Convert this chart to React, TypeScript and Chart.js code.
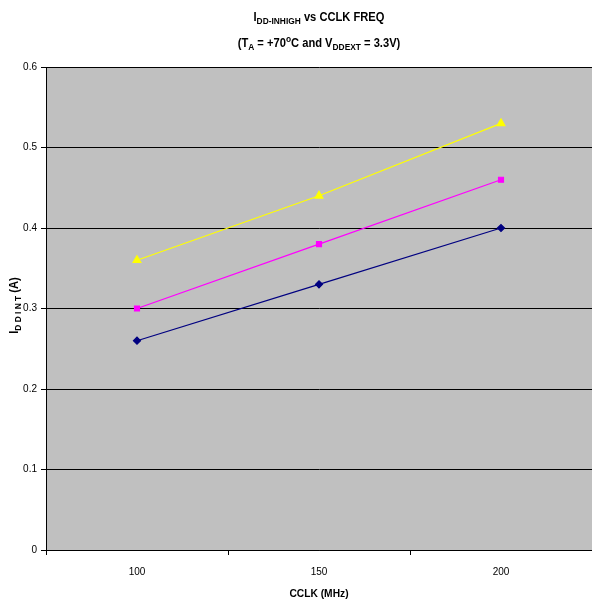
import React, { useEffect, useRef } from "react";
import { Chart, registerables } from "chart.js";

Chart.register(...registerables);

// Clock frequencies (MHz) and measured supply current (A)
const freqLabels = ["100", "150", "200"];
const seriesLow = [0.26, 0.33, 0.4];
const seriesMid = [0.3, 0.38, 0.46];
const seriesHigh = [0.36, 0.44, 0.53];

const FONT = '"Liberation Sans", Arial, sans-serif';

type Seg = { t: string; k?: "sub" | "sup" };

// Draws a centred line of bold text with sub/superscript runs, slightly condensed.
function drawRich(ctx: CanvasRenderingContext2D, segs: Seg[], cx: number, cy: number, size: number, squeeze = 0.93) {
  const small = Math.round(size * 0.72);
  const fontFor = (s: Seg) => `bold ${s.k ? small : size}px ${FONT}`;
  let total = 0;
  const widths = segs.map((s) => {
    ctx.font = fontFor(s);
    const w = ctx.measureText(s.t).width;
    total += w;
    return w;
  });
  ctx.save();
  ctx.translate(cx, cy);
  ctx.scale(squeeze, 1);
  let x = -total / 2;
  ctx.textAlign = "left";
  ctx.textBaseline = "alphabetic";
  ctx.fillStyle = "#000";
  const base = size * 0.36;
  segs.forEach((s, i) => {
    ctx.font = fontFor(s);
    let y = base;
    if (s.k === "sub") y = base + size * 0.25;
    if (s.k === "sup") y = base - size * 0.45;
    ctx.fillText(s.t, x, y);
    x += widths[i];
  });
  ctx.restore();
}

const decorPlugin = {
  id: "decor",
  beforeDraw(chart: any) {
    const { ctx, chartArea } = chart;
    ctx.save();
    ctx.fillStyle = "#C0C0C0";
    ctx.fillRect(chartArea.left, chartArea.top, chartArea.right - chartArea.left, chartArea.bottom - chartArea.top);
    ctx.restore();
  },
  afterDraw(chart: any) {
    const { ctx, chartArea } = chart;
    const cx = (chartArea.left + chartArea.right) / 2;
    ctx.save();
    drawRich(ctx, [{ t: "I" }, { t: "DD-INHIGH", k: "sub" }, { t: " vs CCLK FREQ" }], cx, 17, 12);
    drawRich(
      ctx,
      [
        { t: "(T" },
        { t: "A", k: "sub" },
        { t: " = +70" },
        { t: "o", k: "sup" },
        { t: "C and V" },
        { t: "DDEXT", k: "sub" },
        { t: " = 3.3V)" },
      ],
      cx,
      43,
      12
    );
    drawRich(ctx, [{ t: "CCLK (MHz)" }], cx, 593, 11);
    ctx.translate(14, (chartArea.top + chartArea.bottom) / 2 - 3);
    ctx.rotate(-Math.PI / 2);
    drawRich(ctx, [{ t: "I" }, { t: "D D I N T", k: "sub" }, { t: " (A)" }], 0, 0, 12);
    ctx.restore();
  },
};

export default function App() {
  const ref = useRef<HTMLCanvasElement>(null);

  useEffect(() => {
    document.body.style.margin = "0";
    const chart = new Chart(ref.current!, {
      type: "line",
      data: {
        labels: freqLabels,
        datasets: [
          {
            data: seriesLow,
            borderColor: "#000080",
            backgroundColor: "#000080",
            borderWidth: 1.2,
            pointStyle: "rectRot",
            pointRadius: 3.5,
          },
          {
            data: seriesMid,
            borderColor: "#FF00FF",
            backgroundColor: "#FF00FF",
            borderWidth: 1.2,
            pointStyle: "rect",
            pointRadius: 3.5,
          },
          {
            data: seriesHigh,
            borderColor: "#FFFF00",
            backgroundColor: "#FFFF00",
            borderWidth: 1.2,
            pointStyle: "triangle",
            pointRadius: 4.5,
          },
        ],
      },
      options: {
        animation: false,
        responsive: false,
        layout: { autoPadding: false, padding: { top: 67, left: 0, right: 0, bottom: 0 } },
        plugins: { legend: { display: false }, tooltip: { enabled: false } },
        scales: {
          x: {
            type: "category",
            offset: true,
            border: { color: "#000", width: 1 },
            grid: { offset: true, drawOnChartArea: false, drawTicks: true, tickLength: 5, color: "#000" },
            ticks: { color: "#000", font: { family: FONT, size: 10 }, padding: 11 },
            afterFit: (s: any) => {
              s.height = 55;
              s.paddingLeft = 0;
              s.paddingRight = 0;
            },
          },
          y: {
            min: 0,
            max: 0.6,
            border: { color: "#000", width: 1 },
            grid: { color: "#000", tickLength: 5 },
            ticks: {
              stepSize: 0.1,
              color: "#000",
              font: { family: FONT, size: 10 },
              padding: 4,
              callback: (v: any) => String(Math.round(Number(v) * 10) / 10),
            },
            afterFit: (s: any) => {
              s.width = 46;
            },
          },
        },
      },
      plugins: [decorPlugin],
    });
    return () => chart.destroy();
  }, []);

  return (
    <div style={{ position: "fixed", left: 0, top: 0, width: 592, height: 605 }}>
      <canvas ref={ref} width={592} height={605} />
    </div>
  );
}
